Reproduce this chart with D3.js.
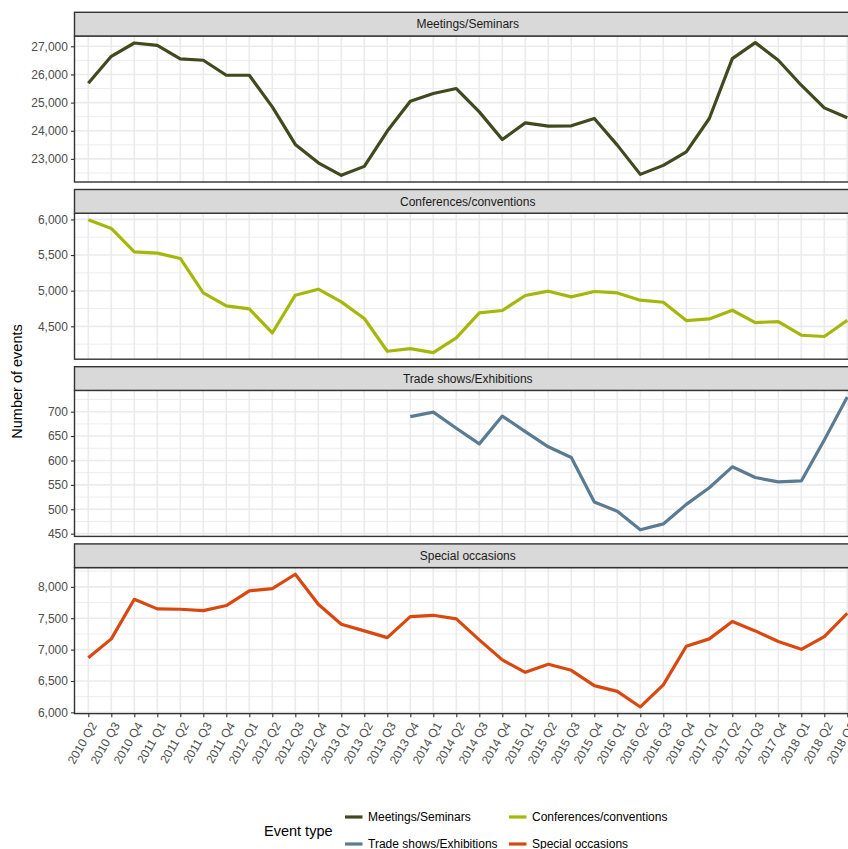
<!DOCTYPE html>
<html><head><meta charset="utf-8">
<script src="https://cdn.jsdelivr.net/npm/d3@7"></script>
<style>
body{margin:0;background:#fff;}
svg{display:block;font-family:"Liberation Sans",Arial,sans-serif;}
</style></head>
<body>
<svg id="chart" width="848" height="849"></svg>
<script>
const quarters = ["2010 Q2","2010 Q3","2010 Q4","2011 Q1","2011 Q2","2011 Q3","2011 Q4","2012 Q1","2012 Q2","2012 Q3","2012 Q4","2013 Q1","2013 Q2","2013 Q3","2013 Q4","2014 Q1","2014 Q2","2014 Q3","2014 Q4","2015 Q1","2015 Q2","2015 Q3","2015 Q4","2016 Q1","2016 Q2","2016 Q3","2016 Q4","2017 Q1","2017 Q2","2017 Q3","2017 Q4","2018 Q1","2018 Q2","2018 Q3"];
const eventTypes = ["Meetings/Seminars","Conferences/conventions","Trade shows/Exhibitions","Special occasions"];
const meetings = [25690,26645,27117,27035,26550,26504,25972,25972,24848,23514,22862,22415,22734,23990,25050,25322,25500,24670,23690,24280,24163,24175,24436,23489,22450,22770,23250,24436,26560,27130,26504,25617,24812,24460];
const conferences = [5994,5873,5545,5527,5452,4969,4787,4744,4407,4937,5021,4843,4610,4150,4188,4132,4337,4688,4722,4933,4993,4913,4989,4969,4867,4838,4581,4604,4726,4553,4567,4375,4357,4586];
const tradeShows = [null,null,null,null,null,null,null,null,null,null,null,null,null,null,690,699,666,634,691,659,628,606,515,496,458,470,510,544,587,565,556,558,642,730];
const specialOccasions = [6872,7171,7802,7649,7643,7622,7702,7936,7973,8201,7723,7404,7298,7191,7526,7547,7490,7155,6836,6638,6766,6670,6426,6335,6086,6437,7053,7171,7447,7298,7128,7005,7207,7579];
const yTicks = [[23000,24000,25000,26000,27000],[4500,5000,5500,6000],[450,500,550,600,650,700],[6000,6500,7000,7500,8000]];
const seriesValues = [meetings, conferences, tradeShows, specialOccasions];
const colors = ["#3F4A1F","#A5B80A","#5B7B93","#D9480F"];

const svg = d3.select("#chart");
const panelLeft = 74.5, panelRight = 861;
const x = d3.scalePoint().domain(quarters).range([88.3, 847.3]);
const stripTop0 = 12.3, period = 177.2, stripH = 23.7, panelH = 146;
const fmt = d3.format(",");

eventTypes.forEach((name, i) => {
  const vals = seriesValues[i];
  const ext = d3.extent(vals.filter(v => v != null));
  const pad = (ext[1] - ext[0]) * 0.05;
  const sTop = stripTop0 + i * period;
  const pTop = sTop + stripH;
  const pBot = pTop + panelH;
  const y = d3.scaleLinear().domain([ext[0] - pad, ext[1] + pad]).range([pBot, pTop]);
  const g = svg.append("g");
  // grid
  const ticks = yTicks[i];
  const step = ticks[1] - ticks[0];
  const minor = [];
  for (let v = ticks[0] - step / 2; v <= y.domain()[1]; v += step) if (v >= y.domain()[0]) minor.push(v);
  g.selectAll(".minor").data(minor).join("line")
    .attr("x1", panelLeft).attr("x2", panelRight)
    .attr("y1", d => y(d)).attr("y2", d => y(d))
    .attr("stroke", "#EBEBEB").attr("stroke-width", 0.9);
  g.selectAll(".majory").data(ticks).join("line")
    .attr("x1", panelLeft).attr("x2", panelRight)
    .attr("y1", d => y(d)).attr("y2", d => y(d))
    .attr("stroke", "#EBEBEB").attr("stroke-width", 1.6);
  g.selectAll(".majorx").data(quarters).join("line")
    .attr("x1", d => x(d)).attr("x2", d => x(d))
    .attr("y1", pTop).attr("y2", pBot)
    .attr("stroke", "#EBEBEB").attr("stroke-width", 1.6);
  // line
  const line = d3.line().defined(d => d[1] != null).x(d => x(d[0])).y(d => y(d[1]));
  g.append("path").datum(quarters.map((q, k) => [q, vals[k]]))
    .attr("d", line).attr("fill", "none").attr("stroke", colors[i])
    .attr("stroke-width", 3.2).attr("stroke-linejoin", "round");
  // panel border
  g.append("rect").attr("x", panelLeft).attr("y", pTop).attr("width", panelRight - panelLeft).attr("height", panelH)
    .attr("fill", "none").attr("stroke", "#333333").attr("stroke-width", 1.4);
  // strip
  g.append("rect").attr("x", panelLeft).attr("y", sTop).attr("width", panelRight - panelLeft).attr("height", stripH)
    .attr("fill", "#D9D9D9").attr("stroke", "#333333").attr("stroke-width", 1.4);
  g.append("text").attr("x", (panelLeft + panelRight) / 2).attr("y", sTop + stripH / 2)
    .attr("dy", "0.35em").attr("text-anchor", "middle").attr("font-size", 12).attr("fill", "#1A1A1A").text(name);
  // y axis
  const ya = g.append("g").attr("transform", `translate(${panelLeft},0)`)
    .call(d3.axisLeft(y).tickValues(ticks).tickFormat(fmt).tickSize(3.6).tickPadding(3));
  ya.select(".domain").remove();
  ya.selectAll("line").attr("stroke", "#333333").attr("stroke-width", 1.1);
  ya.selectAll("text").attr("fill", "#4D4D4D").attr("font-size", 12).attr("font-family", "Liberation Sans, Arial, sans-serif");
  if (i === 3) {
    const xa = g.append("g").attr("transform", `translate(0,${pBot})`)
      .call(d3.axisBottom(x).tickSize(3.6).tickFormat(""));
    xa.select(".domain").remove();
    xa.selectAll("line").attr("stroke", "#333333").attr("stroke-width", 1.1);
    g.selectAll(".xl").data(quarters).join("text")
      .attr("transform", d => `translate(${x(d) + 9},${pBot + 11.5}) rotate(-60)`)
      .attr("text-anchor", "end").attr("font-size", 12).attr("fill", "#4D4D4D").text(d => d);
  }
});

// y title
svg.append("text").attr("transform", "translate(22,381.5) rotate(-90)")
  .attr("text-anchor", "middle").attr("font-size", 14.5).attr("fill", "#000").text("Number of events");

// legend
const legend = svg.append("g");
legend.append("text").attr("x", 264).attr("y", 830.5).attr("dy", "0.35em")
  .attr("font-size", 14.5).attr("fill", "#000").text("Event type");
const legPos = [[344, 817], [508, 817], [344, 844], [508, 844]];
eventTypes.forEach((name, i) => {
  const [lx, ly] = legPos[i];
  legend.append("line").attr("x1", lx + 1).attr("x2", lx + 18.5).attr("y1", ly).attr("y2", ly)
    .attr("stroke", colors[i]).attr("stroke-width", 3.2);
  legend.append("text").attr("x", lx + 24).attr("y", ly).attr("dy", "0.35em")
    .attr("font-size", 12).attr("fill", "#000").text(name);
});
</script>
</body></html>
